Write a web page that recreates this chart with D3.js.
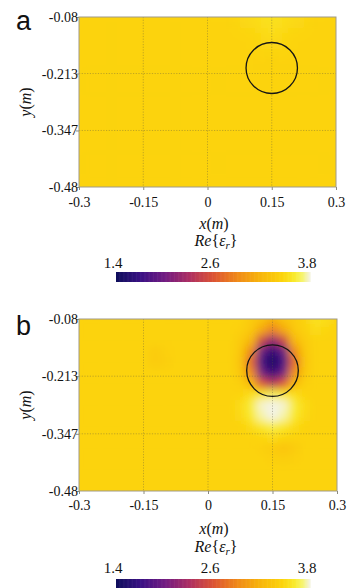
<!DOCTYPE html>
<html>
<head>
<meta charset="utf-8">
<script src="https://cdn.jsdelivr.net/npm/d3@7"></script>
<style>
  body { margin: 0; background: #fff; }
  svg { display: block; }
</style>
</head>
<body>
<svg id="chart" width="349" height="588"></svg>
<script>
// axis ticks
const xDomain = [-0.3, 0.3];
const yDomain = [-0.08, -0.48];
const xTicks = [-0.3, -0.15, 0, 0.15, 0.3];
const yTicks = [-0.08, -0.213, -0.347, -0.48];

// colour bar
const cbDomain = [1.4, 3.8];
const cbTicks = [1.4, 2.6, 3.8];
const cmapValues = [1.4, 1.7, 2.0, 2.3, 2.6, 2.9, 3.2, 3.45, 3.6, 3.7, 3.8];
const cmapColors = ['#0f0f5c', '#3a1184', '#721c82', '#ad2f63', '#dc5434', '#f08a18', '#f8b80c', '#fcd30c', '#f9ea2c', '#f6f46c', '#f3f3ea'];

// background permittivity and the true scatterer outline
const background = 3.45;
const scatterer = { x: 0.15, y: -0.2, r: 0.06 };

// panel a: reference field, 0.05 m cells, rows from y=-0.08 downwards, cols from x=-0.3
const fieldAStep = 0.05;
const fieldA = [
  [3.45, 3.45, 3.45, 3.45, 3.45, 3.45, 3.45, 3.45, 3.5, 3.56, 3.5, 3.45, 3.45],
  [3.45, 3.45, 3.45, 3.45, 3.45, 3.45, 3.45, 3.45, 3.45, 3.5, 3.45, 3.45, 3.45],
  [3.45, 3.45, 3.45, 3.45, 3.45, 3.45, 3.45, 3.45, 3.45, 3.44, 3.45, 3.45, 3.45],
  [3.45, 3.45, 3.45, 3.45, 3.45, 3.45, 3.45, 3.45, 3.45, 3.45, 3.45, 3.45, 3.45],
  [3.45, 3.45, 3.45, 3.45, 3.45, 3.45, 3.45, 3.45, 3.45, 3.45, 3.45, 3.45, 3.45],
  [3.45, 3.45, 3.45, 3.45, 3.45, 3.45, 3.45, 3.45, 3.45, 3.45, 3.45, 3.45, 3.45],
  [3.45, 3.45, 3.45, 3.45, 3.45, 3.45, 3.45, 3.45, 3.45, 3.45, 3.45, 3.45, 3.45],
  [3.45, 3.45, 3.45, 3.45, 3.45, 3.45, 3.45, 3.45, 3.45, 3.45, 3.45, 3.45, 3.45],
  [3.45, 3.45, 3.45, 3.45, 3.45, 3.45, 3.45, 3.45, 3.45, 3.45, 3.45, 3.45, 3.45]
];

// panel b: reconstruction, 0.025 m cells
const fieldBStep = 0.025;
const fieldB = [
  [3.45, 3.45, 3.45, 3.45, 3.45, 3.45, 3.45, 3.45, 3.45, 3.45, 3.45, 3.45, 3.45, 3.45, 3.45, 3.45, 3.38, 3.3, 3.15, 3.3, 3.38, 3.45, 3.55, 3.52, 3.45],
  [3.45, 3.45, 3.45, 3.45, 3.45, 3.45, 3.45, 3.45, 3.45, 3.45, 3.45, 3.45, 3.45, 3.45, 3.45, 3.42, 3.35, 3.1, 2.85, 3.1, 3.35, 3.42, 3.5, 3.47, 3.45],
  [3.45, 3.45, 3.45, 3.45, 3.45, 3.45, 3.45, 3.45, 3.45, 3.45, 3.45, 3.45, 3.45, 3.45, 3.45, 3.38, 3.2, 2.5, 2.15, 2.5, 3.2, 3.38, 3.45, 3.45, 3.45],
  [3.45, 3.45, 3.45, 3.45, 3.45, 3.45, 3.45, 3.38, 3.42, 3.45, 3.45, 3.45, 3.45, 3.45, 3.45, 3.35, 2.9, 1.95, 1.6, 1.95, 2.9, 3.35, 3.45, 3.45, 3.45],
  [3.45, 3.45, 3.45, 3.45, 3.45, 3.45, 3.45, 3.38, 3.4, 3.45, 3.45, 3.45, 3.45, 3.45, 3.45, 3.32, 2.7, 1.75, 1.45, 1.75, 2.7, 3.32, 3.45, 3.45, 3.45],
  [3.45, 3.45, 3.45, 3.45, 3.45, 3.45, 3.45, 3.45, 3.45, 3.45, 3.45, 3.45, 3.45, 3.45, 3.45, 3.35, 2.9, 2.0, 1.65, 2.0, 2.9, 3.35, 3.45, 3.45, 3.45],
  [3.45, 3.45, 3.45, 3.45, 3.45, 3.45, 3.45, 3.45, 3.45, 3.45, 3.45, 3.45, 3.45, 3.45, 3.45, 3.42, 3.2, 2.6, 2.35, 2.6, 3.2, 3.42, 3.45, 3.45, 3.45],
  [3.45, 3.45, 3.45, 3.45, 3.45, 3.45, 3.45, 3.45, 3.45, 3.45, 3.45, 3.45, 3.45, 3.45, 3.45, 3.45, 3.52, 3.58, 3.65, 3.58, 3.52, 3.45, 3.45, 3.45, 3.45],
  [3.45, 3.45, 3.45, 3.45, 3.45, 3.45, 3.45, 3.45, 3.45, 3.45, 3.45, 3.45, 3.45, 3.45, 3.45, 3.5, 3.62, 3.78, 3.85, 3.78, 3.62, 3.5, 3.45, 3.45, 3.45],
  [3.45, 3.45, 3.45, 3.45, 3.45, 3.45, 3.45, 3.45, 3.45, 3.45, 3.45, 3.45, 3.45, 3.45, 3.45, 3.48, 3.6, 3.75, 3.85, 3.75, 3.6, 3.48, 3.45, 3.45, 3.45],
  [3.45, 3.45, 3.45, 3.45, 3.45, 3.45, 3.45, 3.45, 3.45, 3.45, 3.45, 3.45, 3.45, 3.45, 3.45, 3.45, 3.5, 3.58, 3.64, 3.58, 3.5, 3.45, 3.45, 3.45, 3.45],
  [3.45, 3.45, 3.45, 3.45, 3.45, 3.45, 3.45, 3.45, 3.45, 3.45, 3.45, 3.45, 3.45, 3.45, 3.45, 3.45, 3.45, 3.47, 3.5, 3.47, 3.45, 3.45, 3.45, 3.45, 3.45],
  [3.45, 3.45, 3.45, 3.45, 3.45, 3.45, 3.45, 3.45, 3.45, 3.45, 3.45, 3.45, 3.45, 3.45, 3.45, 3.45, 3.45, 3.42, 3.38, 3.32, 3.38, 3.45, 3.45, 3.45, 3.45],
  [3.45, 3.45, 3.45, 3.45, 3.45, 3.45, 3.45, 3.45, 3.45, 3.45, 3.45, 3.45, 3.45, 3.45, 3.45, 3.45, 3.45, 3.45, 3.42, 3.4, 3.42, 3.45, 3.45, 3.45, 3.45],
  [3.45, 3.45, 3.45, 3.45, 3.45, 3.45, 3.45, 3.45, 3.45, 3.45, 3.45, 3.45, 3.45, 3.45, 3.45, 3.45, 3.45, 3.45, 3.45, 3.45, 3.45, 3.45, 3.45, 3.45, 3.45],
  [3.45, 3.45, 3.45, 3.45, 3.45, 3.45, 3.45, 3.45, 3.45, 3.45, 3.45, 3.45, 3.45, 3.45, 3.45, 3.45, 3.45, 3.45, 3.45, 3.45, 3.45, 3.45, 3.45, 3.45, 3.45],
  [3.45, 3.45, 3.45, 3.45, 3.45, 3.45, 3.45, 3.45, 3.45, 3.45, 3.45, 3.45, 3.45, 3.45, 3.45, 3.45, 3.45, 3.45, 3.45, 3.45, 3.45, 3.45, 3.45, 3.45, 3.45]
];

const serif = '"Liberation Serif", "Times New Roman", serif';

const color = d3.scaleLinear().domain(cmapValues).range(cmapColors).clamp(true);

const panels = [
  { name: 'a', field: fieldA, step: fieldAStep, blur: 9,
    top: 17, bottom: 187, left: 79, right: 336, tickPad: 7,
    xlab: 229, relab: 246, cbLab: 268, cbTop: 272, letterY: 30 },
  { name: 'b', field: fieldB, step: fieldBStep, blur: 4.5,
    top: 319, bottom: 491, left: 79, right: 337, tickPad: 6,
    xlab: 534, relab: 552, cbLab: 573, cbTop: 579, letterY: 335 }
];

const svg = d3.select('#chart');
const defs = svg.append('defs');

const drawPanel = (p) => {
  const x = d3.scaleLinear().domain(xDomain).range([p.left, p.right]);
  const y = d3.scaleLinear().domain(yDomain).range([p.top, p.bottom]);
  const g = svg.append('g');

  defs.append('clipPath').attr('id', 'clip-' + p.name)
    .append('rect')
    .attr('x', p.left).attr('y', p.top)
    .attr('width', p.right - p.left).attr('height', p.bottom - p.top);

  const f = defs.append('filter').attr('id', 'blur-' + p.name)
    .attr('filterUnits', 'userSpaceOnUse')
    .attr('x', p.left - 40).attr('y', p.top - 40)
    .attr('width', p.right - p.left + 80).attr('height', p.bottom - p.top + 80);
  f.append('feGaussianBlur').attr('stdDeviation', p.blur);

  const heat = g.append('g').attr('clip-path', `url(#clip-${p.name})`);
  heat.append('rect')
    .attr('x', p.left).attr('y', p.top)
    .attr('width', p.right - p.left).attr('height', p.bottom - p.top)
    .attr('fill', color(background));

  const cellData = [];
  p.field.forEach((row, i) => row.forEach((v, j) => {
    cellData.push({ cx: xDomain[0] + j * p.step, cy: yDomain[0] - i * p.step, v });
  }));
  heat.append('g').attr('filter', `url(#blur-${p.name})`)
    .selectAll('rect').data(cellData).enter().append('rect')
    .attr('x', d => x(d.cx - p.step / 2))
    .attr('y', d => y(d.cy + p.step / 2))
    .attr('width', d => x(d.cx + p.step / 2) - x(d.cx - p.step / 2) + 0.5)
    .attr('height', d => y(d.cy - p.step / 2) - y(d.cy + p.step / 2) + 0.5)
    .attr('fill', d => color(d.v));

  // dotted grid
  g.append('g').selectAll('line.vx').data(xTicks.slice(1, -1)).enter().append('line')
    .attr('x1', d => x(d)).attr('x2', d => x(d))
    .attr('y1', p.top).attr('y2', p.bottom)
    .attr('stroke', '#5a5540').attr('stroke-opacity', 0.75).attr('stroke-width', 0.5).attr('stroke-dasharray', '1.2,1.5');
  g.append('g').selectAll('line.hy').data(yTicks.slice(1, -1)).enter().append('line')
    .attr('x1', p.left).attr('x2', p.right)
    .attr('y1', d => y(d)).attr('y2', d => y(d))
    .attr('stroke', '#5a5540').attr('stroke-opacity', 0.75).attr('stroke-width', 0.5).attr('stroke-dasharray', '1.2,1.5');

  // scatterer outline
  g.append('ellipse')
    .attr('cx', x(scatterer.x)).attr('cy', y(scatterer.y))
    .attr('rx', x(scatterer.r) - x(0)).attr('ry', y(-scatterer.r) - y(0))
    .attr('fill', 'none').attr('stroke', '#151515').attr('stroke-width', 1.3);

  // frame
  g.append('rect')
    .attr('x', p.left).attr('y', p.top)
    .attr('width', p.right - p.left).attr('height', p.bottom - p.top)
    .attr('fill', 'none').attr('stroke', '#a09a88').attr('stroke-width', 1);

  const yAxis = d3.axisLeft(y).tickValues(yTicks).tickSize(3).tickPadding(-2)
    .tickFormat(d => d.toString());
  const xAxis = d3.axisBottom(x).tickValues(xTicks).tickSize(3).tickPadding(p.tickPad)
    .tickFormat(d => d.toString());

  const gy = g.append('g').attr('transform', `translate(${p.left},0)`).call(yAxis);
  const gx = g.append('g').attr('transform', `translate(0,${p.bottom})`).call(xAxis);
  [gx, gy].forEach(a => {
    a.select('.domain').remove();
    a.selectAll('line').attr('stroke', '#8a8a80');
    a.selectAll('text').attr('font-family', serif).attr('font-size', 14).attr('fill', '#111');
  });

  // axis titles
  const xt = g.append('text').attr('x', 214).attr('y', p.xlab)
    .attr('text-anchor', 'middle').attr('font-family', serif).attr('font-size', 16).attr('fill', '#111');
  xt.append('tspan').attr('font-style', 'italic').text('x');
  xt.append('tspan').text('(');
  xt.append('tspan').attr('font-style', 'italic').text('m');
  xt.append('tspan').text(')');

  const yc = (p.top + p.bottom) / 2;
  const yt = g.append('text').attr('transform', `translate(31,${yc}) rotate(-90)`)
    .attr('text-anchor', 'middle').attr('font-family', serif).attr('font-size', 16).attr('fill', '#111');
  yt.append('tspan').attr('font-style', 'italic').text('y');
  yt.append('tspan').text('(');
  yt.append('tspan').attr('font-style', 'italic').text('m');
  yt.append('tspan').text(')');

  const rt = g.append('text').attr('x', 216).attr('y', p.relab)
    .attr('text-anchor', 'middle').attr('font-family', serif).attr('font-size', 16).attr('fill', '#111');
  rt.append('tspan').attr('font-style', 'italic').text('Re');
  rt.append('tspan').text('{');
  rt.append('tspan').attr('font-style', 'italic').text('ε');
  rt.append('tspan').attr('font-style', 'italic').attr('font-size', 11).attr('dy', 3).text('r');
  rt.append('tspan').attr('dy', -3).text('}');

  // colour bar
  const cb = d3.scaleLinear().domain(cbDomain).range([116, 310]);
  const cbSteps = d3.range(cbDomain[0], cbDomain[1], 0.01);
  g.append('g').selectAll('rect').data(cbSteps).enter().append('rect')
    .attr('x', d => cb(d)).attr('y', p.cbTop)
    .attr('width', cb(0.01) - cb(0) + 0.6).attr('height', 10)
    .attr('fill', d => color(d));
  g.append('g').selectAll('text').data(cbTicks).enter().append('text')
    .attr('x', d => cb(d) - 3).attr('y', p.cbLab)
    .attr('text-anchor', 'middle').attr('font-family', serif).attr('font-size', 15).attr('fill', '#111')
    .text(d => d.toFixed(1));

  // panel letter
  g.append('text').attr('x', 16).attr('y', p.letterY)
    .attr('font-family', '"Liberation Sans", Arial, sans-serif').attr('font-size', 27).attr('fill', '#111')
    .text(p.name);
};

panels.forEach(drawPanel);
</script>
</body>
</html>
